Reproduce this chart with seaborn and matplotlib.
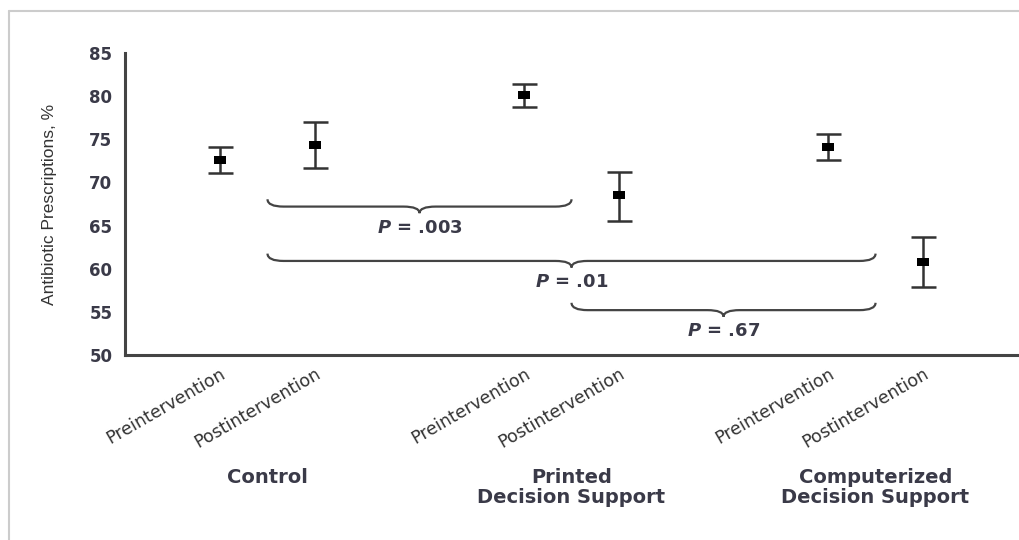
import matplotlib
matplotlib.use("Agg")
import matplotlib.pyplot as plt
from matplotlib.path import Path
from matplotlib.patches import PathPatch
from matplotlib.lines import Line2D
from matplotlib.transforms import ScaledTranslation
import seaborn as sns
import pandas as pd

# Data
groups = ["Control", "Printed\nDecision Support", "Computerized\nDecision Support"]
phases = ["Preintervention", "Postintervention"]
positions = [0.0, 1.0, 3.2, 4.2, 6.4, 7.4]
means = [72.6, 74.3, 80.1, 68.5, 74.1, 60.8]
upper = [74.1, 77.0, 81.4, 71.2, 75.6, 63.7]
lower = [71.1, 71.7, 78.7, 65.5, 72.6, 57.9]
tick_labels = phases * 3
yticks = [50, 55, 60, 65, 70, 75, 80, 85]

# Pairwise comparisons: (first group, second group, level, label)
comparisons = [(0, 1, 67.2, "P = .003"), (0, 2, 60.9, "P = .01"), (1, 2, 55.2, "P = .67")]

df = pd.DataFrame({"x": positions, "y": means,
                   "group": [g for g in groups for _ in phases],
                   "phase": tick_labels})

sns.set_style("white")
plt.rcParams["font.family"] = ["DejaVu Sans"]
plt.rcParams["mathtext.fontset"] = "custom"
plt.rcParams["mathtext.it"] = "DejaVu Sans:italic:bold"

fig = plt.figure(figsize=(10.19, 5.4), dpi=100)
ax = fig.add_axes([125 / 1019, 1 - 355 / 540, 1 - 125 / 1019, (355 - 53) / 540])

ink = "#333333"
text_col = "#3a3a48"
err_lo = [m - l for m, l in zip(means, lower)]
err_hi = [u - m for m, u in zip(means, upper)]
ax.errorbar(df["x"], df["y"], yerr=[err_lo, err_hi], fmt="none",
            ecolor=ink, elinewidth=1.8, capsize=9, capthick=1.8, zorder=2)

# Slightly wide rectangular marker
rect = Path([(-1.35, -1), (1.35, -1), (1.35, 1), (-1.35, 1), (-1.35, -1)],
            [Path.MOVETO, Path.LINETO, Path.LINETO, Path.LINETO, Path.CLOSEPOLY])
sns.scatterplot(data=df, x="x", y="y", marker=rect, s=75, color="black",
                edgecolor="black", linewidth=0, ax=ax, zorder=3, legend=False)

ax.set_xlim(-1.0, 8.41)
ax.set_ylim(50, 85)
ax.set_yticks(yticks)
ax.set_yticklabels([str(t) for t in yticks], fontsize=12, fontweight="bold", color=text_col)
ax.set_xticks(positions)
ax.set_xticklabels(tick_labels, rotation=30, ha="right", rotation_mode="anchor",
                   fontsize=12.5, color="#333333")
shift = ScaledTranslation(8 / 72, 0, fig.dpi_scale_trans)
for lab in ax.get_xticklabels():
    lab.set_transform(lab.get_transform() + shift)
ax.tick_params(axis="both", length=5, width=1.6, color=ink, direction="out", pad=4)
ax.tick_params(axis="x", pad=2)
ax.set_xlabel("")
ax.set_ylabel("Antibiotic Prescriptions, %", fontsize=12.5, color="#333333",
              family=["Liberation Sans", "DejaVu Sans"])
ax.yaxis.set_label_coords(-(125 - 57) / 894, 0.5)
for side in ["top", "right"]:
    ax.spines[side].set_visible(False)
for side in ["left", "bottom"]:
    ax.spines[side].set_color("#444444")
    ax.spines[side].set_linewidth(2.2)

# Group captions below the tick labels
centers = [(positions[2 * i] + positions[2 * i + 1]) / 2 for i in range(3)]
for c, g in zip(centers, groups):
    ax.text(c, -0.375, g, transform=ax.get_xaxis_transform(), ha="center", va="top",
            fontsize=14, fontweight="semibold", color=text_col, linespacing=1.05)


def brace(x0, x1, y, dx=0.17, h=0.85, color="#444444"):
    """Horizontal curly brace with ends turned up and the point down."""
    xm = (x0 + x1) / 2
    verts = [
        (x0, y + h), (x0, y), (x0 + dx, y),
        (xm - dx, y), (xm, y), (xm, y - h * 0.9),
        (xm, y), (xm + dx, y),
        (x1 - dx, y), (x1, y), (x1, y + h),
    ]
    codes = [Path.MOVETO, Path.CURVE3, Path.CURVE3,
             Path.LINETO, Path.CURVE3, Path.CURVE3,
             Path.CURVE3, Path.CURVE3,
             Path.LINETO, Path.CURVE3, Path.CURVE3]
    ax.add_patch(PathPatch(Path(verts, codes), fill=False, edgecolor=color,
                           linewidth=1.6, zorder=2))
    return xm


for a, b, level, label in comparisons:
    xm = brace(centers[a], centers[b], level)
    pre, val = label.split(" = ")
    ax.text(xm, level - 2.45, f"${pre}$ = {val}", ha="center", va="center",
            fontsize=13, fontweight="bold", color=text_col)

# Thin frame around the figure
fig.add_artist(Line2D([9 / 1019, 1.0], [1 - 11 / 540, 1 - 11 / 540],
                      transform=fig.transFigure, color="#cccccc", linewidth=1.5))
fig.add_artist(Line2D([9 / 1019, 9 / 1019], [0.0, 1 - 11 / 540],
                      transform=fig.transFigure, color="#cccccc", linewidth=1.5))

fig.savefig("out.png", dpi=100)
